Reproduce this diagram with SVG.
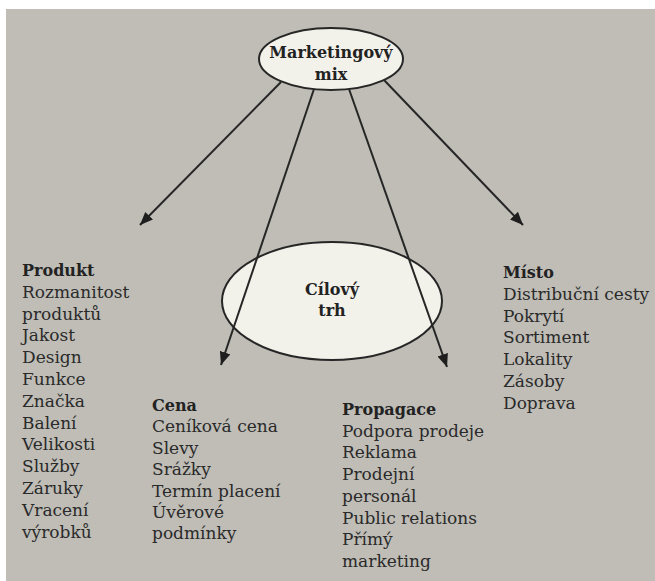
<svg xmlns="http://www.w3.org/2000/svg" width="655" height="581" viewBox="0 0 655 581">
<defs>
<style>
.bg{fill:#bfbdb6}
.ell{fill:#f2f1ea;stroke:#262626;stroke-width:2}
.ttl{font-family:"DejaVu Serif","Liberation Serif",serif;font-weight:bold;font-size:16px;fill:#222}
.body{font-family:"DejaVu Serif","Liberation Serif",serif;font-size:17px;fill:#2a2a2a}
.hd{font-weight:bold;font-size:16px;fill:#222}
.con{stroke:#262626;stroke-width:2;fill:none;marker-end:url(#ah)}
</style>
<marker id="ah" markerUnits="userSpaceOnUse" markerWidth="14" markerHeight="12" refX="13" refY="5.5" orient="auto" viewBox="0 0 14 12">
<path d="M0,0 L13,5.5 L0,11 z" fill="#1e1e1e"/>
</marker>
</defs>
<rect x="0" y="0" width="655" height="581" fill="#ffffff"/>
<rect class="bg" x="6" y="9" width="649" height="572"/>

<g id="cilovy-trh">
<ellipse class="ell" cx="332" cy="301" rx="110" ry="59"/>
<text class="ttl" x="332" y="295" text-anchor="middle">Cílový</text>
<text class="ttl" x="332" y="316" text-anchor="middle">trh</text>
</g>

<g id="connectors">
<line class="con" x1="281" y1="82" x2="140" y2="225"/>
<line class="con" x1="314" y1="89" x2="221" y2="365"/>
<line class="con" x1="349" y1="89" x2="447" y2="367"/>
<line class="con" x1="384" y1="80" x2="523" y2="225"/>
</g>

<g id="marketingovy-mix">
<ellipse class="ell" cx="331" cy="59" rx="72" ry="31"/>
<text class="ttl" x="331" y="58" text-anchor="middle">Marketingový</text>
<text class="ttl" x="331" y="80" text-anchor="middle">mix</text>
</g>

<g id="produkt">
<text class="body" x="22" y="276">
<tspan class="hd" x="22">Produkt</tspan>
<tspan x="22" dy="21.8">Rozmanitost</tspan>
<tspan x="22" dy="21.8">produktů</tspan>
<tspan x="22" dy="21.8">Jakost</tspan>
<tspan x="22" dy="21.8">Design</tspan>
<tspan x="22" dy="21.8">Funkce</tspan>
<tspan x="22" dy="21.8">Značka</tspan>
<tspan x="22" dy="21.8">Balení</tspan>
<tspan x="22" dy="21.8">Velikosti</tspan>
<tspan x="22" dy="21.8">Služby</tspan>
<tspan x="22" dy="21.8">Záruky</tspan>
<tspan x="22" dy="21.8">Vracení</tspan>
<tspan x="22" dy="21.8">výrobků</tspan>
</text>
</g>

<g id="cena">
<text class="body" x="152" y="411">
<tspan class="hd" x="152">Cena</tspan>
<tspan x="152" dy="21.4">Ceníková cena</tspan>
<tspan x="152" dy="21.4">Slevy</tspan>
<tspan x="152" dy="21.4">Srážky</tspan>
<tspan x="152" dy="21.4">Termín placení</tspan>
<tspan x="152" dy="21.4">Úvěrové</tspan>
<tspan x="152" dy="21.4">podmínky</tspan>
</text>
</g>

<g id="propagace">
<text class="body" x="342" y="415">
<tspan class="hd" x="342">Propagace</tspan>
<tspan x="342" dy="21.7">Podpora prodeje</tspan>
<tspan x="342" dy="21.7">Reklama</tspan>
<tspan x="342" dy="21.7">Prodejní</tspan>
<tspan x="342" dy="21.7">personál</tspan>
<tspan x="342" dy="21.7">Public relations</tspan>
<tspan x="342" dy="21.7">Přímý</tspan>
<tspan x="342" dy="21.7">marketing</tspan>
</text>
</g>

<g id="misto">
<text class="body" x="503" y="278">
<tspan class="hd" x="503">Místo</tspan>
<tspan x="503" dy="21.8">Distribuční cesty</tspan>
<tspan x="503" dy="21.8">Pokrytí</tspan>
<tspan x="503" dy="21.8">Sortiment</tspan>
<tspan x="503" dy="21.8">Lokality</tspan>
<tspan x="503" dy="21.8">Zásoby</tspan>
<tspan x="503" dy="21.8">Doprava</tspan>
</text>
</g>
</svg>
